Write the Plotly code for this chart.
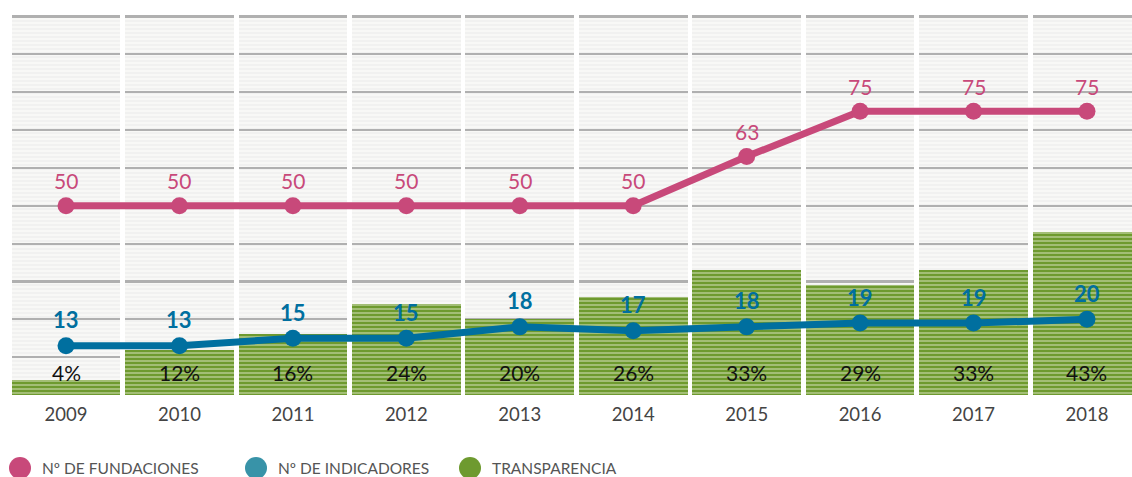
import plotly.graph_objects as go

years = ["2009", "2010", "2011", "2012", "2013", "2014", "2015", "2016", "2017", "2018"]
fundaciones = [50, 50, 50, 50, 50, 50, 63, 75, 75, 75]
indicadores = [13, 13, 15, 15, 18, 17, 18, 19, 19, 20]
transparencia = [4, 12, 16, 24, 20, 26, 33, 29, 33, 43]
grid_values = [10, 20, 30, 40, 50, 60, 70, 80, 90, 100]
y_max = 100
legend_names = ["Nº DE FUNDACIONES", "Nº DE INDICADORES", "TRANSPARENCIA"]

PINK = "#c8497a"
BLUE = "#006f9f"
GREEN = "#6e9a2f"
LEG_BLUE = "#3893a8"
FONT = "Lato"

xs = list(range(len(years)))
W = 0.958

fig = go.Figure()

# background striped columns
fig.add_trace(go.Bar(
    x=xs, y=[y_max] * len(xs), width=W,
    marker=dict(color="#f8f8f6", line=dict(width=0),
                pattern=dict(shape="-", fillmode="replace", bgcolor="#f8f8f6",
                             fgcolor="#ededed", size=4, solidity=0.3)),
    hoverinfo="skip", showlegend=False))

# gridlines inside each column
gx, gbase = [], []
for v in grid_values:
    for i in xs:
        gx.append(i)
        gbase.append(v - 0.28)
fig.add_trace(go.Bar(
    x=gx, y=[0.56] * len(gx), base=gbase, width=W,
    marker=dict(color="#b0b0b0", line=dict(width=0)),
    hoverinfo="skip", showlegend=False))

# transparency bars
fig.add_trace(go.Bar(
    x=xs, y=transparencia, width=W, name="TRANSPARENCIA",
    marker=dict(color=GREEN, line=dict(width=0),
                pattern=dict(shape="-", fillmode="replace", bgcolor=GREEN,
                             fgcolor="#c6d6a6", size=4, solidity=0.3)),
    showlegend=False))

fig.add_trace(go.Scatter(
    x=xs, y=fundaciones, mode="lines+markers", name="Nº DE FUNDACIONES",
    line=dict(color=PINK, width=7), marker=dict(size=17, color=PINK),
    cliponaxis=False, showlegend=False))

fig.add_trace(go.Scatter(
    x=xs, y=indicadores, mode="lines+markers", name="Nº DE INDICADORES",
    line=dict(color=BLUE, width=7), marker=dict(size=17, color=BLUE),
    cliponaxis=False, showlegend=False))

ann = []
for i in xs:
    ann.append(dict(x=i, y=fundaciones[i], yref="y", xref="x", text=str(fundaciones[i]),
                    showarrow=False, yshift=25, font=dict(family=FONT, size=21, color=PINK)))
    ann.append(dict(x=i, y=indicadores[i], yref="y", xref="x", text="<b>%d</b>" % indicadores[i],
                    showarrow=False, yshift=26, font=dict(family=FONT, size=22, color=BLUE)))
    ann.append(dict(x=i, y=0, yref="y", xref="x", text="%d%%" % transparencia[i],
                    showarrow=False, yshift=23, font=dict(family=FONT, size=21, color="#111111")))

# custom legend (circle + text)
PLOT_W = 1132.0
PLOT_H = 380.0
leg_y = (395 - 468) / PLOT_H
shapes = []
for name, col, cx in zip(legend_names, [PINK, LEG_BLUE, GREEN], [20, 256, 470]):
    shapes.append(dict(type="circle", xref="paper", yref="paper",
                       xsizemode="pixel", ysizemode="pixel",
                       xanchor=cx / PLOT_W, yanchor=leg_y,
                       x0=-11, x1=11, y0=-11, y1=11,
                       fillcolor=col, line=dict(width=0)))
    ann.append(dict(x=(cx + 20) / PLOT_W, y=leg_y, xref="paper", yref="paper",
                    xanchor="left", yanchor="middle", text=name, showarrow=False,
                    font=dict(family=FONT, size=15.5, color="#555555")))

fig.update_layout(
    width=1132, height=477,
    margin=dict(l=0, r=0, t=15, b=82),
    paper_bgcolor="white", plot_bgcolor="white",
    barmode="overlay", bargap=0,
    showlegend=False,
    annotations=ann, shapes=shapes,
    xaxis=dict(range=[-0.582, 9.397], tickvals=xs, ticktext=years, showgrid=False,
               zeroline=False, showline=False, ticks="", ticklabelstandoff=6,
               tickfont=dict(family=FONT, size=18.5, color="#444444")),
    yaxis=dict(range=[0, 100.4], showgrid=False, zeroline=False, showline=False,
               showticklabels=False, ticks=""),
)

fig.write_html("out.html", config={"displayModeBar": False},
               post_script="document.body.style.margin='0px';document.body.style.overflow='hidden';")
